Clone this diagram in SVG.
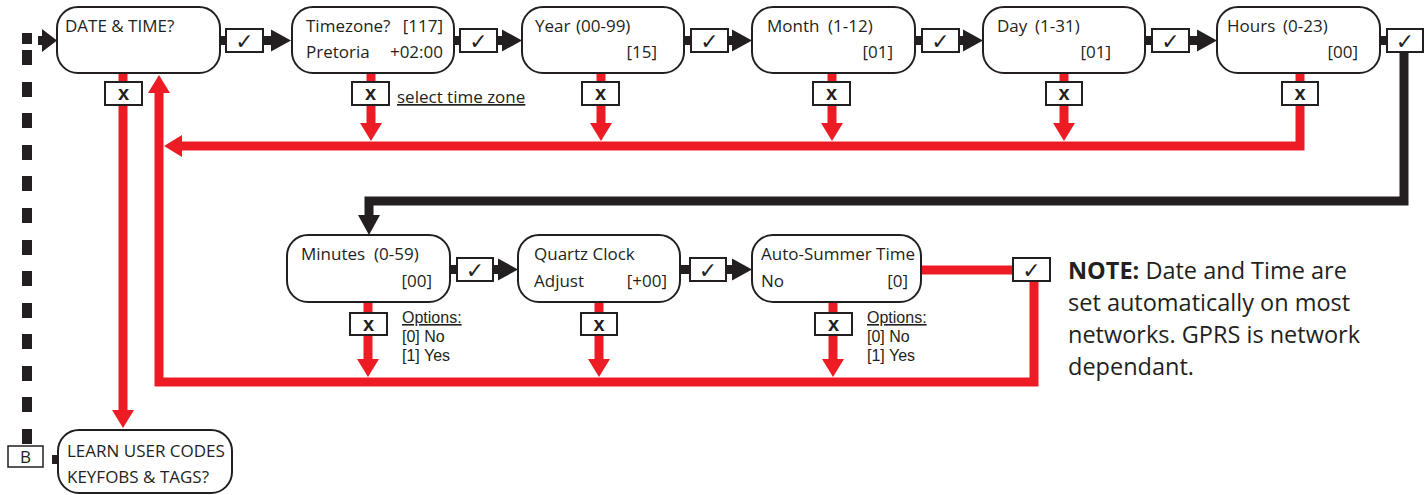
<svg xmlns="http://www.w3.org/2000/svg" width="1427" height="495" viewBox="0 0 1427 495">
<style>
.node{fill:#fff;stroke:#231f20;stroke-width:2}
.box{fill:#fff;stroke:#231f20;stroke-width:2}
.t{font-family:"Open Sans","Liberation Sans",sans-serif;font-size:17px;fill:#231f20}
.o{font-family:"Liberation Sans",sans-serif;font-size:16px;fill:#231f20}
.note{font-family:"Open Sans","Liberation Sans",sans-serif;font-size:23.5px;fill:#231f20}
.ck{font-family:"DejaVu Sans",sans-serif;font-size:22px;fill:#231f20;text-anchor:middle}
.x{font-family:"Liberation Sans",sans-serif;font-size:20px;font-weight:bold;fill:#231f20;text-anchor:middle}
.red{stroke:#ed1c24;stroke-width:9;fill:none}
.blk{stroke:#231f20;stroke-width:9;fill:none}
.end{text-anchor:end}
.dash{fill:#231f20}
</style>
<defs>
<marker id="ar" markerUnits="userSpaceOnUse" markerWidth="18" markerHeight="22" refX="8" refY="11" orient="auto" overflow="visible"><path d="M0,0 L18,11 L0,22 z" fill="#ed1c24"/></marker>
<marker id="ab" markerUnits="userSpaceOnUse" markerWidth="20" markerHeight="22" refX="10" refY="11" orient="auto" overflow="visible"><path d="M0,0 L20,11 L0,22 z" fill="#231f20"/></marker>
</defs>

<g id="connectors">
  <!-- dashed B return line -->
  <rect class="dash" x="22" y="33" width="10" height="11"/>
  <rect class="dash" x="22" y="50" width="10" height="15"/>
  <rect class="dash" x="22" y="82" width="10" height="15"/>
  <rect class="dash" x="22" y="113" width="10" height="15"/>
  <rect class="dash" x="22" y="145" width="10" height="15"/>
  <rect class="dash" x="22" y="176" width="10" height="15"/>
  <rect class="dash" x="22" y="208" width="10" height="15"/>
  <rect class="dash" x="22" y="240" width="10" height="15"/>
  <rect class="dash" x="22" y="271" width="10" height="15"/>
  <rect class="dash" x="22" y="303" width="10" height="15"/>
  <rect class="dash" x="22" y="334" width="10" height="15"/>
  <rect class="dash" x="22" y="366" width="10" height="15"/>
  <rect class="dash" x="22" y="397" width="10" height="15"/>
  <rect class="dash" x="22" y="429" width="10" height="15"/>
  <rect class="dash" x="38" y="36" width="7" height="9"/>
  <polygon class="dash" points="42,29 57,40.5 42,52"/>
  <rect class="dash" x="52" y="455" width="7" height="9"/>

  <!-- top row black -->
  <path class="blk" d="M220,40.5 H281" marker-end="url(#ab)"/>
  <path class="blk" d="M454,40.5 H512" marker-end="url(#ab)"/>
  <path class="blk" d="M684,40.5 H742" marker-end="url(#ab)"/>
  <path class="blk" d="M915,40.5 H973" marker-end="url(#ab)"/>
  <path class="blk" d="M1145,40.5 H1207" marker-end="url(#ab)"/>
  <path class="blk" d="M1380,40.5 H1404 V201 H369 V225" marker-end="url(#ab)"/>
  <!-- second row black -->
  <path class="blk" d="M450,269.5 H508" marker-end="url(#ab)"/>
  <path class="blk" d="M680,269.5 H742" marker-end="url(#ab)"/>

  <!-- red cancel lines -->
  <path class="red" d="M123,73 V418" marker-end="url(#ar)"/>
  <path class="red" d="M371,73 V131" marker-end="url(#ar)"/>
  <path class="red" d="M601,73 V131" marker-end="url(#ar)"/>
  <path class="red" d="M832,73 V131" marker-end="url(#ar)"/>
  <path class="red" d="M1064,73 V131" marker-end="url(#ar)"/>
  <path class="red" d="M1300,73 V146 H174" marker-end="url(#ar)"/>
  <path class="red" d="M921,270 H1034 V382 H159 V85" marker-end="url(#ar)"/>
  <path class="red" d="M368,302 V367" marker-end="url(#ar)"/>
  <path class="red" d="M599,302 V367" marker-end="url(#ar)"/>
  <path class="red" d="M833,302 V367" marker-end="url(#ar)"/>

  <!-- check boxes -->
  <rect class="box" x="226" y="29" width="37" height="23"/><text class="ck" x="244.5" y="49">✓</text>
  <rect class="box" x="460" y="29" width="37" height="23"/><text class="ck" x="478.5" y="49">✓</text>
  <rect class="box" x="691" y="29" width="37" height="23"/><text class="ck" x="709.5" y="49">✓</text>
  <rect class="box" x="922" y="29" width="37" height="23"/><text class="ck" x="940.5" y="49">✓</text>
  <rect class="box" x="1152" y="29" width="37" height="23"/><text class="ck" x="1170.5" y="49">✓</text>
  <rect class="box" x="1387" y="29" width="36" height="23"/><text class="ck" x="1405" y="49">✓</text>
  <rect class="box" x="457" y="258" width="36" height="23"/><text class="ck" x="475" y="278">✓</text>
  <rect class="box" x="690" y="258" width="36" height="23"/><text class="ck" x="708" y="278">✓</text>
  <rect class="box" x="1013" y="258" width="37" height="23"/><text class="ck" x="1031.5" y="278">✓</text>

  <!-- cancel boxes -->
  <rect class="box" x="105" y="82" width="37" height="23"/><text class="x" x="123.5" y="100">x</text>
  <rect class="box" x="352" y="82" width="37" height="23"/><text class="x" x="370.5" y="100">x</text>
  <rect class="box" x="582" y="82" width="37" height="23"/><text class="x" x="600.5" y="100">x</text>
  <rect class="box" x="813" y="82" width="37" height="23"/><text class="x" x="831.5" y="100">x</text>
  <rect class="box" x="1046" y="82" width="36" height="23"/><text class="x" x="1064" y="100">x</text>
  <rect class="box" x="1282" y="82" width="36" height="23"/><text class="x" x="1300" y="100">x</text>
  <rect class="box" x="350" y="313" width="37" height="22"/><text class="x" x="368.5" y="331">x</text>
  <rect class="box" x="581" y="313" width="36" height="22"/><text class="x" x="599" y="331">x</text>
  <rect class="box" x="815" y="313" width="37" height="22"/><text class="x" x="833.5" y="331">x</text>

  <text class="t" x="397" y="103" text-decoration="underline">select time zone</text>
  <text class="o" x="402" y="323" text-decoration="underline">Options:</text>
  <text class="o" x="402" y="342">[0] No</text>
  <text class="o" x="402" y="361">[1] Yes</text>
  <text class="o" x="867" y="323" text-decoration="underline">Options:</text>
  <text class="o" x="867" y="342">[0] No</text>
  <text class="o" x="867" y="361">[1] Yes</text>
</g>

<g id="node-date">
  <rect class="node" x="57" y="7" width="163" height="66" rx="21"/>
  <text class="t" x="65" y="32">DATE &amp; TIME?</text>
</g>
<g id="node-timezone">
  <rect class="node" x="292" y="7" width="162" height="66" rx="21"/>
  <text class="t" x="306" y="32">Timezone?</text>
  <text class="t end" x="443" y="32">[117]</text>
  <text class="t" x="306" y="58">Pretoria</text>
  <text class="t end" x="443" y="58">+02:00</text>
</g>
<g id="node-year">
  <rect class="node" x="522" y="7" width="162" height="66" rx="21"/>
  <text class="t" x="535" y="32">Year<tspan x="576">(00-99)</tspan></text>
  <text class="t end" x="657" y="58">[15]</text>
</g>
<g id="node-month">
  <rect class="node" x="752" y="7" width="163" height="66" rx="21"/>
  <text class="t" x="767" y="32">Month<tspan x="828">(1-12)</tspan></text>
  <text class="t end" x="893" y="58">[01]</text>
</g>
<g id="node-day">
  <rect class="node" x="983" y="7" width="162" height="66" rx="21"/>
  <text class="t" x="997" y="32">Day<tspan x="1035">(1-31)</tspan></text>
  <text class="t end" x="1111" y="58">[01]</text>
</g>
<g id="node-hours">
  <rect class="node" x="1217" y="7" width="163" height="66" rx="21"/>
  <text class="t" x="1227" y="32">Hours<tspan x="1283">(0-23)</tspan></text>
  <text class="t end" x="1358" y="58">[00]</text>
</g>
<g id="node-minutes">
  <rect class="node" x="287" y="235" width="163" height="67" rx="21"/>
  <text class="t" x="301" y="260">Minutes<tspan x="374">(0-59)</tspan></text>
  <text class="t end" x="432" y="287">[00]</text>
</g>
<g id="node-quartz">
  <rect class="node" x="518" y="235" width="162" height="67" rx="21"/>
  <text class="t" x="534" y="260">Quartz Clock</text>
  <text class="t" x="534" y="287">Adjust</text>
  <text class="t end" x="667" y="287">[+00]</text>
</g>
<g id="node-summer">
  <rect class="node" x="752" y="235" width="169" height="67" rx="21"/>
  <text class="t" x="761" y="260">Auto-Summer Time</text>
  <text class="t" x="761" y="287">No</text>
  <text class="t end" x="908" y="287">[0]</text>
</g>
<g id="node-learn">
  <rect class="node" x="58" y="430" width="174" height="63" rx="21"/>
  <text class="t" x="67" y="457">LEARN USER CODES</text>
  <text class="t" x="67" y="483">KEYFOBS &amp; TAGS?</text>
</g>
<g id="node-b">
  <rect class="box" x="8" y="446" width="35" height="21" style="stroke-width:1.5"/>
  <text class="t" x="25.5" y="463" text-anchor="middle">B</text>
</g>
<g id="note">
  <text class="note" x="1068" y="279"><tspan font-weight="bold">NOTE:</tspan> Date and Time are</text>
  <text class="note" x="1068" y="311">set automatically on most</text>
  <text class="note" x="1068" y="343">networks. GPRS is network</text>
  <text class="note" x="1068" y="375">dependant.</text>
</g>
</svg>
